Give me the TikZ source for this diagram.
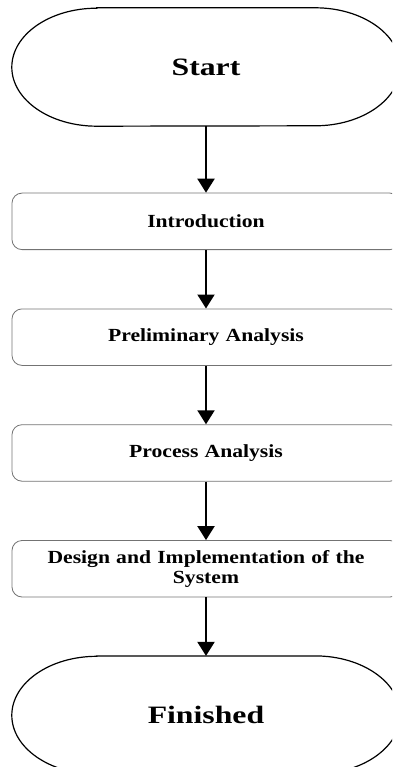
\documentclass[tikz,border=0pt]{standalone}
\usepackage{fontspec}
\newfontfamily\termfont[FakeStretch=1.27]{Liberation Serif}
\newfontfamily\stagefont[FakeStretch=1.17]{Liberation Serif}
\usetikzlibrary{positioning,arrows.meta}

\tikzset{
	terminal/.style={minimum width=388pt, minimum height=118pt, inner sep=0pt,
		font=\termfont\bfseries\fontsize{25}{30}\selectfont},
	stage/.style={draw=black!55, line width=0.8pt, rounded corners=10pt,
		minimum width=388pt, minimum height=56.5pt, inner sep=0pt,
		text width=370pt, align=center,
		font=\stagefont\bfseries\fontsize{18.5}{20}\selectfont},
	flow/.style={-{Triangle[width=17pt,length=14pt]}, line width=2pt}
}

\begin{document}
\begin{tikzpicture}
		\useasboundingbox (0pt,0pt) rectangle (392pt,-767pt);
		\clip (0pt,0pt) rectangle (392pt,-767pt);

		\node[terminal] (start) at (206pt,-67pt) {Start};
		\node[stage, below=66.5pt of start] (intro) {Introduction};
		\node[stage, below=58.5pt of intro] (prelim) {Preliminary Analysis};
		\node[stage, below=58.5pt of prelim] (process) {Process Analysis};
		\node[stage, below=58.5pt of process] (design) {Design and Implementation of the\\System};
		\node[terminal, below=58.5pt of design] (finish) {Finished};

		% terminals with elliptic ends
		\foreach \t in {start,finish}
			\draw[line width=1.2pt]
				([xshift=85pt]\t.north west) -- ([xshift=-85pt]\t.north east)
				arc[start angle=90, end angle=-90, x radius=85pt, y radius=59pt]
				-- ([xshift=85pt]\t.south west)
				arc[start angle=270, end angle=90, x radius=85pt, y radius=59pt]
				-- cycle;

		\draw[flow] (start) -- (intro);
		\draw[flow] (intro) -- (prelim);
		\draw[flow] (prelim) -- (process);
		\draw[flow] (process) -- (design);
		\draw[flow] (design) -- (finish);
	\end{tikzpicture}
\end{document}
